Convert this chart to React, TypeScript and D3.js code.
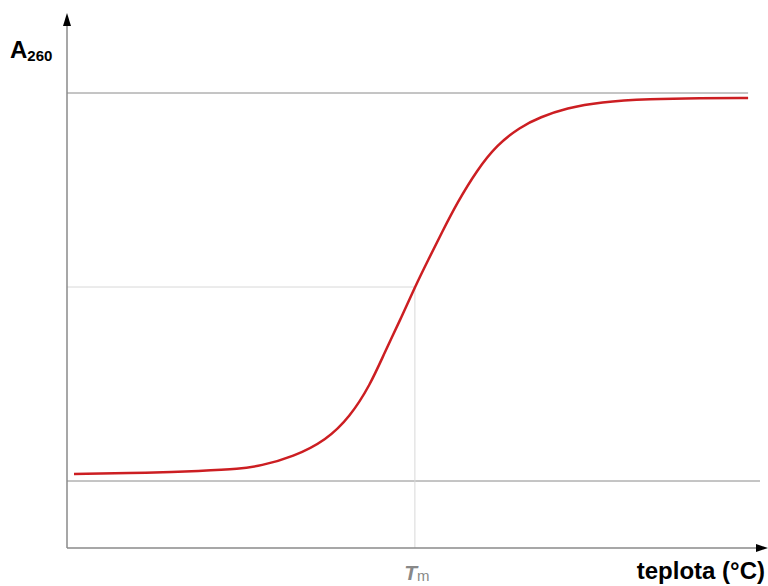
import React from "react";
import * as d3 from "d3";

// melting curve, temperature (arbitrary units 0..100) vs relative A260
const temps = [1, 11.9, 19, 24.7, 27.6, 32.3, 37.1, 40.4, 43.3, 45.4, 47.6, 49.7, 51.6, 53.6, 55.7, 58.6, 61.4, 64.7, 67.6, 71.4, 76.1, 83.3, 90.4, 97.3];
const absorb = [0.018, 0.021, 0.026, 0.031, 0.039, 0.062, 0.106, 0.165, 0.247, 0.332, 0.415, 0.5, 0.57, 0.642, 0.716, 0.802, 0.866, 0.912, 0.938, 0.961, 0.977, 0.985, 0.987, 0.987];
const tm = 49.7;
const levels = [0, 1];
const midLevel = 0.5;

const W = 768;
const H = 586;

const App = () => {
  const x = d3.scaleLinear().domain([0, 100]).range([67, 767]);
  const y = d3.scaleLinear().domain([0, 1]).range([481, 93]);
  const axisY = 548;
  const axisX = x(0);

  const pts = temps.map((t, i) => [t, absorb[i]] as [number, number]);
  const line = d3
    .line<[number, number]>()
    .x((d) => x(d[0]))
    .y((d) => y(d[1]))
    .curve(d3.curveBasis);

  const font = "Liberation Sans, Arial, sans-serif";

  return (
    <svg width={W} height={H} style={{ position: "absolute", left: 0, top: 0, background: "#fff" }}>
      {/* reference levels */}
      <line x1={axisX} x2={x(97.3)} y1={y(levels[1])} y2={y(levels[1])} stroke="#8a8a8a" strokeWidth={1} />
      <line x1={axisX} x2={x(99)} y1={y(levels[0])} y2={y(levels[0])} stroke="#8a8a8a" strokeWidth={1} />
      <line x1={axisX} x2={x(tm)} y1={y(midLevel)} y2={y(midLevel)} stroke="#d8d8d8" strokeWidth={1} />
      <line x1={x(tm)} x2={x(tm)} y1={y(midLevel)} y2={axisY} stroke="#d8d8d8" strokeWidth={1} />

      {/* axes */}
      <line x1={axisX} x2={axisX} y1={axisY} y2={22} stroke="#8a8a8a" strokeWidth={1.5} />
      <path d={`M${axisX},13 L${axisX - 4},26 L${axisX + 4},26 Z`} fill="#000" />
      <line x1={axisX} x2={760} y1={axisY} y2={axisY} stroke="#8a8a8a" strokeWidth={1.5} />
      <path d={`M768,${axisY} L756,${axisY - 4} L756,${axisY + 4} Z`} fill="#000" />

      {/* curve */}
      <path d={line(pts) || ""} fill="none" stroke="#cc1e22" strokeWidth={2.5} />

      {/* labels */}
      <text x={10} y={58} fontFamily={font} fontWeight="bold" fontSize={24} fill="#000">
        A<tspan fontSize={15} dy={3}>260</tspan>
      </text>
      <text x={x(tm) + 2} y={580} fontFamily={font} fontWeight="bold" fontSize={21} fill="#888" textAnchor="middle">
        <tspan fontStyle="italic">T</tspan>
        <tspan fontWeight="normal" fontSize={15} dy={1}>m</tspan>
      </text>
      <text x={765} y={579} fontFamily={font} fontWeight="bold" fontSize={24} fill="#000" textAnchor="end">
        teplota (°C)
      </text>
    </svg>
  );
};

export default App;
